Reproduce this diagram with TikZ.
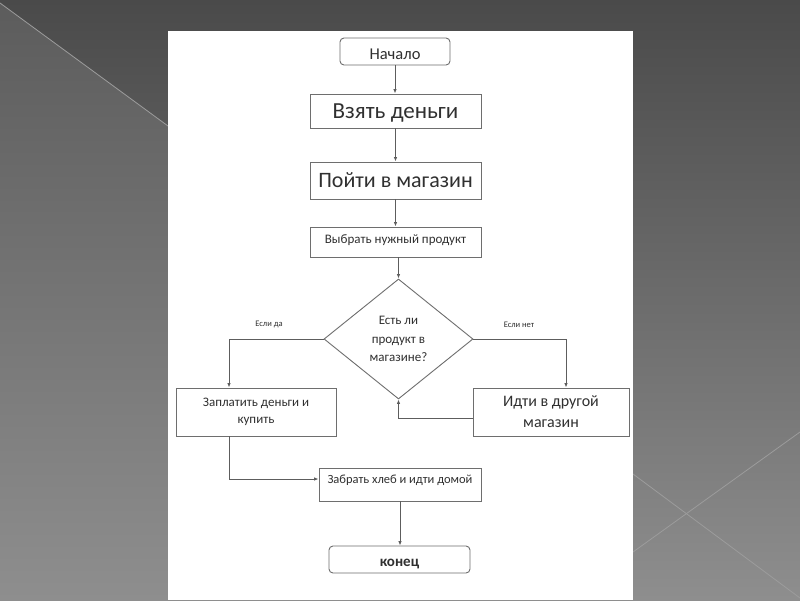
\documentclass[tikz,border=0pt]{standalone}
\usepackage{fontspec}
\setmainfont{Carlito}
\usetikzlibrary{shapes.geometric,arrows.meta,calc}
\definecolor{txt}{HTML}{303030}
\definecolor{edge}{HTML}{6E6E6E}
\definecolor{bgtop}{HTML}{4A4A4A}
\definecolor{bgbot}{HTML}{8E8E8E}
\definecolor{bgltop}{HTML}{5C5C5C}
\definecolor{bgline}{HTML}{9C9C9C}
\tikzset{
  box/.style={draw=edge, line width=0.9pt, fill=white, text=txt, inner sep=0pt, align=center},
  rbox/.style={box, rounded corners=4pt},
  dec/.style={draw=edge, line width=0.9pt, fill=white, text=txt, diamond, inner sep=0pt, align=center, minimum width=149pt, minimum height=120pt},
  conn/.style={draw=edge!85!black, line width=0.9pt},
  arr/.style={conn, -{Latex[length=4.5pt,width=3.5pt]}},
  lab/.style={text=txt, font=\fontsize{8.5}{10}\selectfont, inner sep=0pt}
}
\begin{document}
\begin{tikzpicture}[x=1pt,y=-1pt]
\useasboundingbox (0,0) rectangle (800,600);
% background
\shade[top color=bgtop, bottom color=bgbot] (0,0) rectangle (800,600);
\shade[top color=bgltop, bottom color=bgbot] (0,3) -- (168,126) -- (168,600) -- (0,600) -- cycle;
\draw[bgline, line width=0.8pt] (0,3) -- (168,126);
\draw[bgline, line width=0.8pt] (633,474) -- (800,598);
\draw[bgline, line width=0.8pt] (633,552) -- (800,432);
\fill[white] (168,31) rectangle (633,600);

% nodes
\node[rbox, minimum width=110pt, minimum height=27pt, font=\fontsize{16.5}{19}\selectfont, text height=16pt] (start) at (395,51.5) {Начало};
\node[box, minimum width=171pt, minimum height=34pt, font=\fontsize{23}{26}\selectfont, text height=19pt] (take) at (395.5,111) {Взять деньги};
\node[box, minimum width=171pt, minimum height=37pt, font=\fontsize{22}{26}\selectfont] (go) at (395.5,180.5) {Пойти в магазин};
\node[box, minimum width=171pt, minimum height=30pt, font=\fontsize{13}{15}\selectfont, text depth=6pt] (choose) at (395.5,242) {Выбрать нужный продукт};
\node[dec, font=\fontsize{13}{18.5}\selectfont] (dia) at (398.5,339) {Есть ли\\продукт в\\магазине?};
\node[box, minimum width=160pt, minimum height=48pt, font=\fontsize{13}{17}\selectfont] (pay) at (256,412) {Заплатить деньги и\\купить};
\node[box, minimum width=156pt, minimum height=48pt, font=\fontsize{16}{21}\selectfont] (other) at (551,412) {Идти в другой\\магазин};
\node[box, minimum width=162pt, minimum height=33pt, font=\fontsize{12.5}{15}\selectfont, text depth=11pt] (home) at (400,484.5) {Забрать хлеб и идти домой};
\node[rbox, minimum width=141pt, minimum height=27pt, font=\fontsize{15}{18}\selectfont\bfseries, text height=16pt] (end) at (399.5,559.5) {конец};

% labels
\node[lab] (yes) at (269,324) {Если да};
\node[lab] (no) at (519,325) {Если нет};

% connectors
\draw[arr] (start.south) -- (start.south |- take.north);
\draw[arr] (take.south) -- (take.south |- go.north);
\draw[arr] (go.south) -- (go.south |- choose.north);
\draw[arr] (choose.south -| dia.north) -- (dia.north);
\draw[arr] (dia.west) -| ([xshift=-27pt]pay.north);
\draw[arr] (dia.east) -| ([xshift=15pt]other.north);
\draw[arr] ([yshift=-6pt]other.west) -| (dia.south);
\draw[arr] ([xshift=-27pt]pay.south) |- ([yshift=5.5pt]home.west);
\draw[arr] (home.south) -- (home.south |- end.north);
\end{tikzpicture}
\end{document}
